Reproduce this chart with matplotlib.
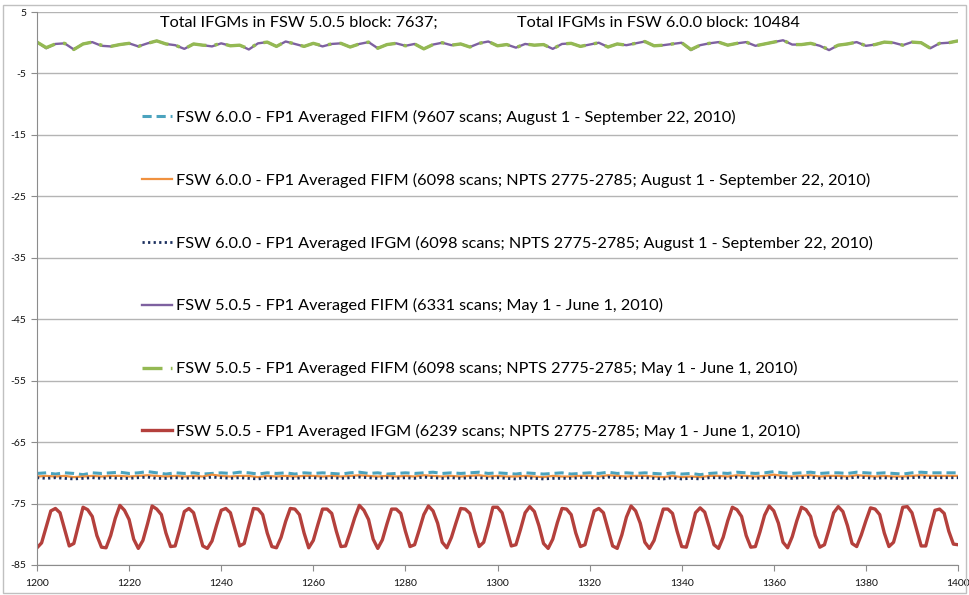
import matplotlib
matplotlib.use("Agg")
import matplotlib.pyplot as plt
import numpy as np
from matplotlib.patches import Rectangle

plt.rcParams["font.family"] = ["Lato", "DejaVu Sans"]
plt.rcParams["axes.unicode_minus"] = False

# x positions (wavenumber index)
x_fine = np.arange(1200, 1401)
x_coarse = np.arange(1200, 1401, 2)

# FSW 5.0.5 - FP1 Averaged FIFM (6331 scans)
fifm_505 = [
    0.1, -0.9, -0.2, -0.1, -1.1, -0.2, 0.1, -0.5, -0.6, -0.3,
    -0.1, -0.6, -0.1, 0.3, -0.2, -0.4, -1.0, -0.2, -0.4, -0.6,
    -0.1, -0.5, -0.4, -1.1, -0.1, 0.1, -0.6, 0.2, -0.2, -0.6,
    -0.1, -0.6, -0.2, -0.1, -0.7, -0.2, 0.1, -0.9, -0.3, -0.1,
    -0.5, -0.2, -1.0, -0.3, 0.0, -0.4, -0.2, -0.7, -0.1, 0.2,
    -0.5, -0.3, -0.8, -0.2, -0.4, -0.3, -1.0, -0.2, -0.1, -0.6,
    -0.3, 0.0, -0.7, -0.2, -0.4, -0.1, 0.2, -0.5, -0.4, -0.2,
    0.0, -1.2, -0.4, -0.1, 0.1, -0.4, -0.1, 0.1, -0.5, -0.2,
    0.1, 0.4, -0.3, -0.3, -0.1, -0.5, -1.2, -0.4, -0.2, 0.1,
    -0.5, -0.3, 0.1, 0.0, -0.4, 0.1, 0.0, -0.9, -0.1, 0.0,
    0.3,
]

# FSW 5.0.5 - FP1 Averaged FIFM (6098 scans; NPTS 2775-2785)
fifm_505_npts = [
    0.1, -0.8, -0.2, -0.1, -1.1, -0.2, 0.1, -0.4, -0.6, -0.3,
    -0.1, -0.6, -0.1, 0.3, -0.2, -0.4, -1.0, -0.2, -0.4, -0.5,
    -0.1, -0.5, -0.4, -1.0, -0.1, 0.1, -0.6, 0.2, -0.2, -0.6,
    -0.1, -0.5, -0.2, -0.1, -0.7, -0.2, 0.1, -0.9, -0.3, -0.1,
    -0.5, -0.2, -1.0, -0.3, 0.0, -0.4, -0.2, -0.7, -0.1, 0.2,
    -0.5, -0.3, -0.8, -0.2, -0.4, -0.3, -1.0, -0.2, -0.1, -0.6,
    -0.3, 0.0, -0.7, -0.2, -0.4, -0.1, 0.2, -0.5, -0.4, -0.2,
    0.0, -1.1, -0.4, -0.1, 0.1, -0.4, -0.1, 0.1, -0.5, -0.2,
    0.1, 0.4, -0.3, -0.3, -0.1, -0.5, -1.1, -0.4, -0.2, 0.1,
    -0.5, -0.3, 0.1, 0.0, -0.4, 0.1, 0.0, -0.9, -0.1, 0.0,
    0.3,
]

# FSW 6.0.0 - FP1 Averaged FIFM (9607 scans)
fifm_600 = [
    -70.1, -70.0, -70.2, -70.0, -70.1, -70.3, -70.0, -70.1, -70.0, -69.9,
    -70.1, -70.0, -69.8, -70.0, -70.2, -70.0, -70.1, -70.0, -70.2, -70.1,
    -70.0, -70.1, -69.9, -70.0, -70.2, -70.0, -70.1, -70.0, -70.2, -70.0,
    -70.1, -70.0, -70.1, -70.2, -70.0, -69.9, -70.1, -70.0, -70.2, -70.1,
    -70.0, -70.1, -70.0, -69.9, -70.1, -70.0, -70.1, -70.0, -69.9, -70.1,
    -70.0, -70.1, -70.2, -70.0, -70.1, -70.2, -70.1, -70.0, -70.2, -70.1,
    -70.0, -70.1, -69.9, -70.1, -70.0, -70.1, -70.0, -70.1, -70.2, -70.0,
    -70.2, -70.1, -70.3, -70.1, -70.0, -70.1, -69.9, -70.0, -70.1, -70.0,
    -69.8, -70.0, -70.1, -70.0, -69.9, -70.1, -70.0, -70.0, -70.1, -69.9,
    -70.0, -70.1, -70.0, -70.1, -70.2, -70.0, -69.9, -70.0, -70.0, -70.0,
    -70.0,
]

# FSW 6.0.0 - FP1 Averaged FIFM (6098 scans; NPTS 2775-2785)
fifm_600_npts = [
    -70.6, -70.5, -70.6, -70.5, -70.7, -70.6, -70.5, -70.6, -70.5, -70.5,
    -70.6, -70.5, -70.4, -70.5, -70.6, -70.5, -70.6, -70.5, -70.6, -70.3,
    -70.5, -70.6, -70.5, -70.5, -70.7, -70.5, -70.6, -70.5, -70.6, -70.5,
    -70.5, -70.6, -70.5, -70.6, -70.5, -70.4, -70.5, -70.6, -70.5, -70.6,
    -70.5, -70.6, -70.4, -70.5, -70.6, -70.5, -70.6, -70.5, -70.4, -70.6,
    -70.5, -70.6, -70.6, -70.5, -70.6, -70.7, -70.5, -70.6, -70.6, -70.5,
    -70.5, -70.6, -70.4, -70.5, -70.6, -70.5, -70.5, -70.6, -70.7, -70.5,
    -70.7, -70.6, -70.7, -70.5, -70.5, -70.6, -70.4, -70.5, -70.6, -70.5,
    -70.3, -70.5, -70.6, -70.5, -70.4, -70.6, -70.5, -70.5, -70.6, -70.4,
    -70.5, -70.6, -70.5, -70.6, -70.6, -70.5, -70.4, -70.5, -70.5, -70.5,
    -70.5,
]

# FSW 6.0.0 - FP1 Averaged IFGM (6098 scans; NPTS 2775-2785)
ifgm_600_npts = [
    -70.8, -70.9, -70.8, -70.9, -71.0, -70.9, -70.8, -70.9, -70.8, -70.9,
    -70.9, -70.8, -70.7, -70.9, -70.9, -70.8, -70.9, -70.8, -70.9, -70.7,
    -70.8, -70.9, -70.8, -70.9, -71.0, -70.8, -70.9, -70.9, -70.9, -70.8,
    -70.8, -70.9, -70.8, -70.9, -70.8, -70.7, -70.8, -70.9, -70.8, -70.9,
    -70.8, -70.9, -70.7, -70.8, -70.9, -70.8, -70.9, -70.8, -70.8, -70.9,
    -70.8, -70.9, -71.0, -70.8, -70.9, -71.0, -70.9, -70.9, -70.9, -70.8,
    -70.8, -70.9, -70.7, -70.8, -70.9, -70.8, -70.8, -70.9, -71.0, -70.8,
    -71.0, -70.9, -71.0, -70.8, -70.8, -70.9, -70.7, -70.8, -70.9, -70.8,
    -70.7, -70.8, -70.9, -70.8, -70.7, -70.9, -70.8, -70.8, -70.9, -70.7,
    -70.8, -70.9, -70.8, -70.9, -70.9, -70.8, -70.7, -70.8, -70.8, -70.8,
    -70.8,
]

# FSW 5.0.5 - FP1 Averaged IFGM (6239 scans; NPTS 2775-2785), one value per unit
ifgm_505_npts = [
    -82.2, -81.4, -78.8, -76.2, -75.8, -76.5, -79.2, -81.9, -81.5, -78.5,
    -75.6, -76.0, -77.1, -80.2, -82.1, -82.2, -80.2, -77.4, -75.3, -76.1,
    -77.6, -80.8, -82.3, -81.0, -78.3, -75.4, -75.9, -76.8, -79.8, -82.0,
    -81.9, -79.2, -76.3, -75.8, -76.5, -79.2, -81.9, -82.3, -81.1, -78.5,
    -76.1, -75.8, -76.5, -79.2, -81.9, -81.5, -78.6, -75.8, -75.9, -76.8,
    -79.8, -82.0, -82.2, -80.5, -77.9, -75.8, -75.9, -76.8, -79.8, -82.2,
    -81.0, -78.4, -75.9, -75.9, -76.6, -79.5, -82.0, -81.9, -79.7, -77.3,
    -75.3, -76.1, -77.6, -80.8, -82.3, -80.9, -78.3, -75.9, -75.9, -76.6,
    -79.5, -82.0, -81.7, -79.3, -76.8, -75.4, -76.2, -78.2, -81.3, -82.2,
    -80.5, -78.1, -75.8, -75.9, -76.6, -79.5, -82.0, -81.3, -78.6, -75.6,
    -75.6, -76.5, -79.2, -81.9, -81.7, -79.2, -76.5, -75.5, -76.3, -78.6,
    -81.5, -82.3, -80.8, -78.1, -75.8, -75.9, -76.8, -79.8, -82.0, -81.7,
    -78.9, -76.2, -75.8, -76.5, -79.2, -81.9, -82.3, -80.1, -77.2, -75.4,
    -76.2, -78.2, -81.3, -82.3, -81.0, -78.4, -75.9, -75.9, -76.6, -79.5,
    -82.0, -82.1, -79.5, -76.5, -75.7, -76.4, -78.9, -81.7, -82.3, -80.5,
    -77.8, -75.6, -76.0, -77.1, -80.2, -82.1, -82.0, -79.6, -76.9, -75.4,
    -76.2, -78.2, -81.3, -82.2, -80.4, -77.8, -75.6, -76.0, -77.1, -80.2,
    -82.1, -81.7, -79.2, -76.5, -75.5, -76.3, -78.6, -81.5, -82.0, -80.1,
    -77.8, -75.7, -75.9, -76.8, -79.8, -82.0, -81.3, -78.6, -75.6, -75.5,
    -76.5, -79.2, -81.9, -81.9, -78.9, -76.1, -75.9, -76.6, -79.5, -81.6,
    -81.7,
]

labels = [
    "FSW 6.0.0 - FP1 Averaged FIFM (9607 scans; August 1 - September 22, 2010)",
    "FSW 6.0.0 - FP1 Averaged FIFM (6098 scans; NPTS 2775-2785; August 1 - September 22, 2010)",
    "FSW 6.0.0 - FP1 Averaged IFGM (6098 scans; NPTS 2775-2785; August 1 - September 22, 2010)",
    "FSW 5.0.5 - FP1 Averaged FIFM (6331 scans; May 1 - June 1, 2010)",
    "FSW 5.0.5 - FP1 Averaged FIFM (6098 scans; NPTS 2775-2785; May 1 - June 1, 2010)",
    "FSW 5.0.5 - FP1 Averaged IFGM (6239 scans; NPTS 2775-2785; May 1 - June 1, 2010)",
]
totals = ["Total IFGMs in FSW 5.0.5 block: 7637;", "Total IFGMs in FSW 6.0.0 block: 10484"]

fig = plt.figure(figsize=(9.69, 5.95), dpi=100)
ax = fig.add_axes([37 / 969, 1 - 565 / 595, 921 / 969, 553 / 595])

l_purple, = ax.plot(x_coarse, fifm_505, color="#7E61A0", lw=1.7, label=labels[3])
l_green, = ax.plot(x_coarse, fifm_505_npts, color="#94B953", lw=2.4,
                   dashes=(6, 2.5, 1, 2.5), label=labels[4])
l_red, = ax.plot(x_fine, ifgm_505_npts, color="#B4403C", lw=2.4,
                 solid_joinstyle="round", label=labels[5])
l_cyan, = ax.plot(x_coarse, fifm_600, color="#4BA3BE", lw=2.2,
                  dashes=(3, 1.6), label=labels[0])
l_orange, = ax.plot(x_coarse, fifm_600_npts, color="#F0913F", lw=1.6, label=labels[1])
l_navy, = ax.plot(x_coarse, ifgm_600_npts, color="#1B2F5E", lw=2.0,
                  dashes=(0.8, 1.2), label=labels[2])

ax.set_xlim(1200, 1400)
ax.set_ylim(-85, 5)
ax.set_xticks(np.arange(1200, 1401, 20))
ax.set_yticks(np.arange(5, -86, -10))
ax.grid(axis="y", color="#B4B4B4", lw=1)
ax.set_axisbelow(True)
for s in ["top", "right"]:
    ax.spines[s].set_visible(False)
for s in ["left", "bottom"]:
    ax.spines[s].set_color("#8C8C8C")
ax.tick_params(axis="both", length=4, color="#8C8C8C", labelsize=7.5, labelcolor="#111111")
ax.tick_params(axis="x", pad=6)

ax.legend(handles=[l_cyan, l_orange, l_navy, l_purple, l_green, l_red],
          loc="upper left", bbox_to_anchor=(0.114, 0.823), frameon=False,
          fontsize=11.7, handlelength=1.85, handletextpad=0.25, labelspacing=2.94,
          borderpad=0, borderaxespad=0)

fig.text(160 / 969, 1 - 23 / 595, totals[0], fontsize=11.7, va="center")
fig.text(517 / 969, 1 - 23 / 595, totals[1], fontsize=11.7, va="center")

fig.patches.append(Rectangle((0.003, 0.004), 0.994, 0.988, transform=fig.transFigure,
                             fill=False, edgecolor="#C0C0C0", lw=1))

fig.savefig("out.png", dpi=100)
